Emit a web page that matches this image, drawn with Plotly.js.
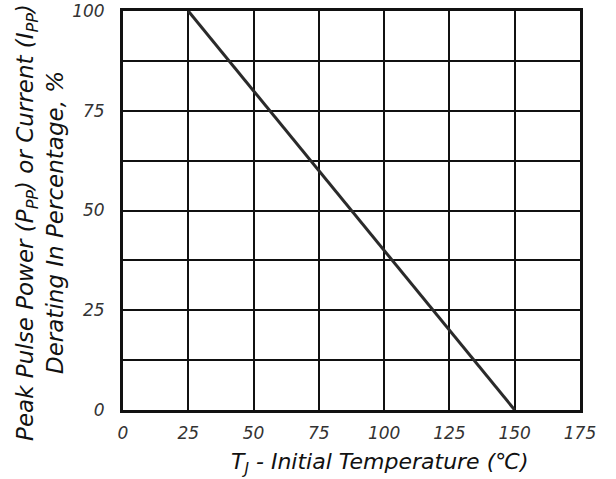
<!DOCTYPE html>
<html>
<head>
<meta charset="utf-8">
<script src="https://cdn.plot.ly/plotly-3.0.1.min.js"></script>
<style>html,body{margin:0;padding:0;background:#fff;}#chart{width:616px;height:479px;}</style>
</head>
<body>
<div id="chart"></div>
<script>
const temperature = [25, 150];
const derating = [100, 0];
const xTicks = [0, 25, 50, 75, 100, 125, 150, 175];
const yTicks = [0, 25, 50, 75, 100];
const xTitle = '<i>T<sub>J</sub> - Initial Temperature (℃)</i>';
const yTitle = '<i>Peak Pulse Power (P<sub>PP</sub>) or Current (I<sub>PP</sub>)</i><br><i>Derating In Percentage, %</i>';

const fam = 'DejaVu Sans, Liberation Sans, Arial, sans-serif';

const trace = {
  x: temperature,
  y: derating,
  mode: 'lines',
  line: {color: '#2a2a2a', width: 3},
  hoverinfo: 'skip'
};

const layout = {
  width: 616, height: 479,
  margin: {l: 123, r: 36, t: 11, b: 69},
  paper_bgcolor: '#fff', plot_bgcolor: '#fff',
  showlegend: false,
  font: {family: fam, color: '#111'},
  xaxis: {
    range: [0, 175],
    tickvals: xTicks,
    ticktext: xTicks.map(v => '<i>' + v + '</i>'),
    showgrid: true, gridcolor: '#111', gridwidth: 2,
    zeroline: false,
    showline: true, linecolor: '#111', linewidth: 3, mirror: true,
    ticks: '', ticklabelstandoff: 6,
    tickfont: {family: fam, size: 17, color: '#333'}
  },
  yaxis: {
    range: [0, 100],
    tickvals: yTicks,
    ticktext: yTicks.map(v => '<i>' + v + '</i>'),
    showgrid: true, gridcolor: '#111', gridwidth: 2,
    minor: {dtick: 12.5, showgrid: true, gridcolor: '#111', gridwidth: 2, ticks: ''},
    zeroline: false,
    showline: true, linecolor: '#111', linewidth: 3, mirror: true,
    ticks: '', ticklabelstandoff: 12,
    tickfont: {family: fam, size: 17, color: '#333'}
  },
  annotations: [
    {text: xTitle, xref: 'paper', yref: 'paper', x: 0.562, y: -0.133,
     xanchor: 'center', yanchor: 'middle', showarrow: false,
     font: {family: fam, size: 22, color: '#111'}},
    {text: yTitle, xref: 'paper', yref: 'paper', x: -0.182, y: 0.471,
     xanchor: 'center', yanchor: 'middle', showarrow: false, textangle: -90,
     font: {family: fam, size: 23, color: '#111'}}
  ]
};

Plotly.newPlot('chart', [trace], layout, {displayModeBar: false, staticPlot: true});
</script>
</body>
</html>
